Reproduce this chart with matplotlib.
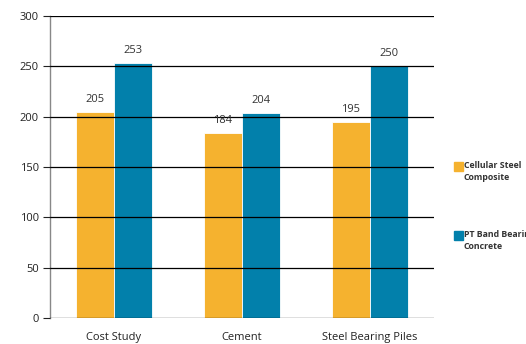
import matplotlib.pyplot as plt
import numpy as np
from matplotlib.patches import Rectangle

categories = ["Cost Study", "Cement", "Steel Bearing Piles"]
cellular_steel = [205, 184, 195]
pt_band = [253, 204, 250]
series_names = ["Cellular Steel\nComposite", "PT Band Bearing\nConcrete"]
y_ticks = [0, 50, 100, 150, 200, 250, 300]

ORANGE = "#F5B22F"
BLUE = "#0280AB"

plt.rcParams["font.family"] = ["Open Sans", "DejaVu Sans"]

fig = plt.figure(figsize=(5.26, 3.44), dpi=100)
ax = fig.add_axes([50 / 526, 1 - 318 / 344, 384 / 526, 302 / 344])

x = np.arange(len(categories))
w = 0.3
b1 = ax.bar(x - w / 2, cellular_steel, w, color=ORANGE, edgecolor="white",
            linewidth=0.6, zorder=1)
b2 = ax.bar(x + w / 2, pt_band, w, color=BLUE, edgecolor="white",
            linewidth=0.6, zorder=1)
ax.bar_label(b1, padding=5, fontsize=8, color="#333333")
ax.bar_label(b2, padding=5, fontsize=8, color="#333333")

ax.set_xlim(-0.5, 2.5)
ax.set_ylim(0, 300)
ax.set_yticks(y_ticks)
ax.set_xticks(x)
ax.set_xticklabels(categories)
ax.tick_params(axis="x", length=0, pad=10, labelsize=8, colors="#222222")
ax.tick_params(axis="y", length=5, width=0.8, labelsize=8, colors="#222222",
               pad=3)
ax.yaxis.grid(True, color="black", linewidth=0.9, zorder=3)
ax.set_axisbelow(False)
for s in ["top", "right", "bottom"]:
    ax.spines[s].set_visible(False)
ax.spines["left"].set_color("#888888")
ax.spines["left"].set_linewidth(1.0)

# legend drawn by hand: square next to first line of a two-line label
# (the second label runs off the right edge, as in the original)
legend_top = [162, 231]
for name, col, top in zip(series_names, [ORANGE, BLUE], legend_top):
    fig.patches.append(Rectangle((454 / 526, 1 - (top + 9) / 344), 9 / 526,
                                 9 / 344, color=col,
                                 transform=fig.transFigure))
    fig.text(464 / 526, 1 - (top - 1) / 344, name, fontsize=6.3,
             fontweight="bold", color="#333333", va="top", ha="left",
             linespacing=1.45)

fig.savefig("out.png", dpi=100)
